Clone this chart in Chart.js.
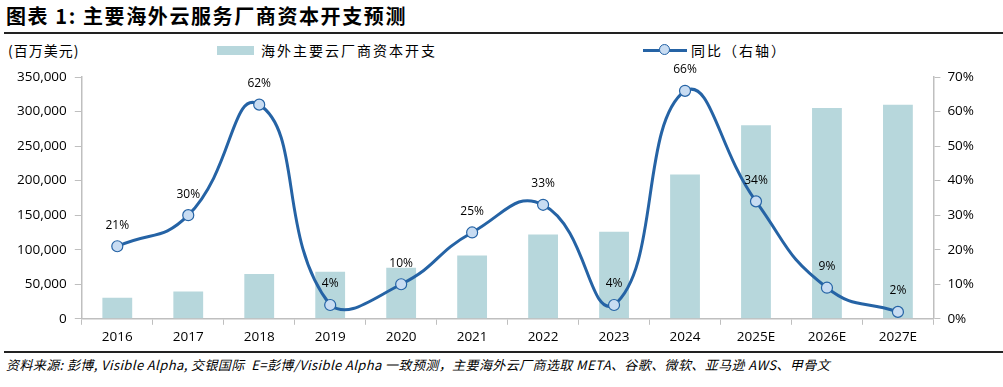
<!DOCTYPE html>
<html>
<head>
<meta charset="utf-8">
<script src="https://cdn.jsdelivr.net/npm/chart.js@4/dist/chart.umd.min.js"></script>
<style>
  html, body { margin: 0; padding: 0; background: #fff; }
  body { width: 1003px; height: 387px; position: relative; overflow: hidden;
         font-family: "Noto Sans CJK SC", "Noto Sans", sans-serif; color: #000; }
  #title { position: absolute; left: 6px; top: 1px; font-size: 20px; font-weight: 700; letter-spacing: 1.6px; }
  #rule-top { position: absolute; left: 4px; right: 0; top: 32px; height: 2px; background: #222; }
  #unit { position: absolute; left: 8px; top: 40px; font-size: 14px; letter-spacing: 1px; }
  .legend { position: absolute; top: 40px; font-size: 14px; letter-spacing: 2px; display: flex; align-items: center; }
  .swatch-bar { width: 37px; height: 9px; background: #b7d7dc; margin-right: 7px; }
  .swatch-line { width: 44px; height: 12px; margin-right: 4px; position: relative; }
  .swatch-line::before { content: ""; position: absolute; left: 0; right: 0; top: 4.5px; height: 3px; background: #2563a5; }
  .swatch-line::after { content: ""; position: absolute; left: 16px; top: 0; width: 9px; height: 9px; border-radius: 50%;
                        background: #c8dcf2; border: 1.5px solid #2563a5; }
  #chart-wrap { position: absolute; left: 0; top: 58px; width: 1003px; height: 291px; }
  #rule-bottom { position: absolute; left: 4px; right: 0; top: 351px; height: 2px; background: #222; }
  #source { position: absolute; left: 6px; top: 355px; font-size: 13px; font-style: italic; letter-spacing: 0.4px; }
</style>
</head>
<body>
<div id="title">图表 1: 主要海外云服务厂商资本开支预测</div>
<div id="rule-top"></div>
<div id="unit">(百万美元)</div>
<div class="legend" style="left:217px"><span class="swatch-bar"></span>海外主要云厂商资本开支</div>
<div class="legend" style="left:643px"><span class="swatch-line"></span>同比（右轴）</div>
<div id="chart-wrap"><canvas id="chart"></canvas></div>
<div id="rule-bottom"></div>
<div id="source">资料来源: 彭博, Visible Alpha, 交银国际&nbsp;&nbsp;E=彭博/Visible Alpha 一致预测，主要海外云厂商选取 META、谷歌、微软、亚马逊 AWS、甲骨文</div>

<script>
// ── Data ────────────────────────────────────────────────────────────────────

const YEARS = ['2016', '2017', '2018', '2019', '2020', '2021',
               '2022', '2023', '2024', '2025E', '2026E', '2027E'];

const CAPEX = [30500, 39500, 65000, 68000, 74000, 91500,
               122000, 126000, 209000, 280000, 305000, 310000];

const YOY = [21, 30, 62, 4, 10, 25, 33, 4, 66, 34, 9, 2];

const LEFT_TICKS = [0, 50000, 100000, 150000, 200000, 250000, 300000, 350000];
const RIGHT_TICKS = [0, 10, 20, 30, 40, 50, 60, 70];

const AXIS_GREY = '#bfbfbf';
const TICK_FONT = { family: '"Open Sans", "Noto Sans", sans-serif', size: 13.5 };

// ── Point labels for the YoY line ───────────────────────────────────────────

const yoyLabels = {
  id: 'yoyLabels',
  afterDatasetsDraw(chart) {
    const meta = chart.getDatasetMeta(0);
    const ctx = chart.ctx;
    ctx.save();
    ctx.font = '12px "Open Sans", "Noto Sans", sans-serif';
    ctx.fillStyle = '#000';
    ctx.textAlign = 'center';
    ctx.textBaseline = 'middle';
    meta.data.forEach((pt, i) => {
      ctx.fillText(YOY[i] + '%', pt.x, pt.y - 21);
    });
    ctx.restore();
  }
};

// ── Chart ───────────────────────────────────────────────────────────────────

new Chart(document.getElementById('chart'), {
  data: {
    labels: YEARS,
    datasets: [
      {
        type: 'line',
        label: '同比（右轴）',
        data: YOY,
        yAxisID: 'y1',
        order: 0,
        borderColor: '#2563a5',
        borderWidth: 3,
        tension: 0.5,
        clip: false,
        pointRadius: 5.5,
        pointBackgroundColor: '#c8dcf2',
        pointBorderColor: '#2563a5',
        pointBorderWidth: 1.2,
      },
      {
        type: 'bar',
        label: '海外主要云厂商资本开支',
        data: CAPEX,
        yAxisID: 'y',
        order: 1,
        backgroundColor: '#b7d7dc',
        categoryPercentage: 1,
        barPercentage: 0.42,
      },
    ],
  },
  options: {
    responsive: true,
    maintainAspectRatio: false,
    animation: false,
    events: [],
    layout: { padding: { top: 19, left: 9, right: 22, bottom: 0 } },
    plugins: { legend: { display: false }, tooltip: { enabled: false } },
    scales: {
      x: {
        offset: true,
        grid: { offset: true, drawOnChartArea: false, drawTicks: true, tickLength: 6, color: AXIS_GREY },
        border: { color: AXIS_GREY, width: 1.5 },
        ticks: { color: '#000', font: TICK_FONT, padding: 4, maxRotation: 0 },
      },
      y: {
        position: 'left',
        min: 0,
        max: 350000,
        afterBuildTicks: axis => { axis.ticks = LEFT_TICKS.map(v => ({ value: v })); },
        grid: { drawOnChartArea: false, drawTicks: true, tickLength: 7, color: AXIS_GREY },
        border: { color: AXIS_GREY, width: 1.5 },
        ticks: { color: '#000', font: TICK_FONT, padding: 8, callback: v => v.toLocaleString('en-US') },
      },
      y1: {
        position: 'right',
        min: 0,
        max: 70,
        afterBuildTicks: axis => { axis.ticks = RIGHT_TICKS.map(v => ({ value: v })); },
        grid: { drawOnChartArea: false, drawTicks: true, tickLength: 7, color: AXIS_GREY },
        border: { color: AXIS_GREY, width: 1.5 },
        ticks: { color: '#000', font: TICK_FONT, padding: 7, callback: v => v + '%' },
      },
    },
  },
  plugins: [yoyLabels],
});
</script>
</body>
</html>
